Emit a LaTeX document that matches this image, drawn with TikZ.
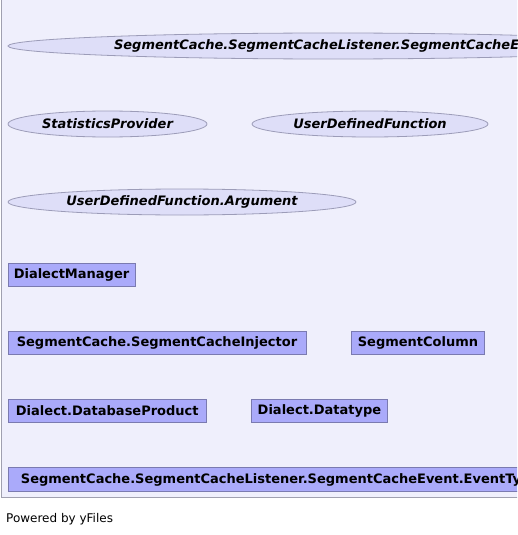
\documentclass[tikz,border=0pt]{standalone}
\usepackage{fontspec}
\setmainfont{DejaVu Sans}
\usetikzlibrary{shapes.geometric}
\definecolor{bgcol}{HTML}{EFEFFC}
\definecolor{framecol}{HTML}{A0A0B0}
\definecolor{ellfill}{HTML}{DEDEF8}
\definecolor{elldraw}{HTML}{9C9CB8}
\definecolor{boxfill}{HTML}{AAAAFA}
\definecolor{boxdraw}{HTML}{7A7AB0}
\tikzset{
  ell/.style={ellipse, draw=elldraw, fill=ellfill, line width=0.8pt, inner sep=0pt,
    minimum height=26pt, font=\fontsize{13}{15}\selectfont\bfseries\itshape},
  cls/.style={rectangle, draw=boxdraw, fill=boxfill, line width=0.8pt, inner sep=0pt,
    minimum height=23pt, font=\fontsize{13}{15}\selectfont\bfseries},
}
\begin{document}
\begin{tikzpicture}[x=1pt,y=-1pt]
\useasboundingbox (0,0) rectangle (517,535);
\clip (0,0) rectangle (517,535);
\fill[white] (0,0) rectangle (517,535);
\filldraw[fill=bgcol, draw=framecol, line width=1pt] (1,-5) rectangle (530,497.5);
\node[ell, minimum width=650pt] (e1) at (333,46) {SegmentCache.SegmentCacheListener.SegmentCacheEvent};
\node[ell, minimum width=199pt] (e2) at (107.5,124) {StatisticsProvider};
\node[ell, minimum width=236pt] (e3) at (370,124) {UserDefinedFunction};
\node[ell, minimum width=348pt] (e4) at (182,202) {UserDefinedFunction.Argument};
\node[cls, minimum width=127pt] (b1) at (71.5,274.5) {DialectManager};
\node[cls, minimum width=298pt] (b2) at (157,342.5) {SegmentCache.SegmentCacheInjector};
\node[cls, minimum width=133pt] (b3) at (418,342.5) {SegmentColumn};
\node[cls, minimum width=198pt] (b4) at (107.3,411) {Dialect.DatabaseProduct};
\node[cls, minimum width=136pt] (b5) at (319.5,411) {Dialect.Datatype};
\node[cls, minimum height=24pt, inner xsep=12.5pt, anchor=west] (b6) at (8,479.5) {SegmentCache.SegmentCacheListener.SegmentCacheEvent.EventType};
\node[anchor=west, inner sep=0pt, font=\fontsize{12}{14}\selectfont] (pw) at (6,519.5) {Powered by yFiles};
\end{tikzpicture}
\end{document}
